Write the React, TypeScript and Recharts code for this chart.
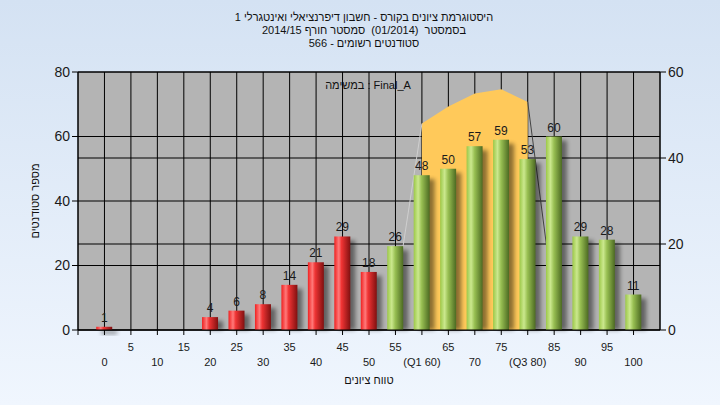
import { ComposedChart, Bar, Area, Line, XAxis, YAxis, CartesianGrid, LabelList } from 'recharts';

const titleLines = [
  'היסטוגרמת ציונים בקורס - חשבון דיפרנציאלי ואינטגרלי 1',
  'בסמסטר  (01/2014)  סמסטר חורף 2014/15',
  'סטודנטים רשומים - 566',
];
const taskLabel = 'במשימה : Final_A';
const xTitle = 'טווח ציונים';
const yTitle = 'מספר סטודנטים';

const scores = [0, 5, 10, 15, 20, 25, 30, 35, 40, 45, 50, 55, 60, 65, 70, 75, 80, 85, 90, 95, 100];
const counts = [1, 0, 0, 0, 4, 6, 8, 14, 21, 29, 18, 26, 48, 50, 57, 59, 53, 60, 29, 28, 11];
// curve on the right axis, only around the quartiles
const density = [null, null, null, null, null, null, null, null, null, null, null, 8, 48, 52, 55, 56, 53, 6, null, null, null];

const passMark = 55;
const q1 = 60;
const q3 = 80;

const xTicks = [-5, 0, 5, 10, 15, 20, 25, 30, 35, 40, 45, 50, 55, 60, 65, 70, 75, 80, 85, 90, 95, 100];
const leftTicks = [0, 20, 40, 60, 80];
const rightTicks = [0, 20, 40, 60];

const data = scores.map((s, i) => ({
  score: s,
  count: counts[i],
  band: s >= q1 && s <= q3 ? density[i] : null,
  edgeLow: s >= q1 - 5 && s <= q1 ? density[i] : null,
  edgeHigh: s >= q3 && s <= q3 + 5 ? density[i] : null,
}));

const font = '"Liberation Sans", Arial, sans-serif';

function CylinderBar(props: any) {
  const { x, y, width, height, payload } = props;
  if (!height || height <= 0) return null;
  const red = payload.score < passMark;
  const sh = height > 6 ? height - 4 : height;
  return (
    <g>
      <rect x={x + 5} y={y + 4} width={width} height={sh} fill="#000" opacity={0.45} filter="url(#barShadow)" />
      <rect x={x} y={y} width={width} height={height} fill={red ? 'url(#redGrad)' : 'url(#greenGrad)'} />
    </g>
  );
}

function XTick(props: any) {
  const { x, y, payload } = props;
  const v = payload.value;
  if (v < 0) return null;
  const low = v % 10 === 0;
  let label = String(v);
  if (v === q1) label = `(Q1 ${v})`;
  if (v === q3) label = `(Q3 ${v})`;
  return (
    <text x={x} y={y} dy={low ? 29 : 14} textAnchor="middle" fontSize={11} fill="#1a1a1a" fontFamily={font}>
      {label}
    </text>
  );
}

export default function App() {
  return (
    <div
      style={{
        position: 'absolute',
        left: 0,
        top: 0,
        width: 720,
        height: 405,
        background: 'linear-gradient(180deg, #d4e2f3 0%, #f0f6fe 100%)',
        fontFamily: font,
      }}
    >
      <svg width={0} height={0} style={{ position: 'absolute' }}>
        <defs>
          <linearGradient id="redGrad" x1="0" y1="0" x2="1" y2="0">
            <stop offset="0%" stopColor="#f02020" />
            <stop offset="28%" stopColor="#ff7a7a" />
            <stop offset="45%" stopColor="#f03434" />
            <stop offset="100%" stopColor="#801010" />
          </linearGradient>
          <linearGradient id="greenGrad" x1="0" y1="0" x2="1" y2="0">
            <stop offset="0%" stopColor="#9cc848" />
            <stop offset="28%" stopColor="#cbe88e" />
            <stop offset="50%" stopColor="#98bf52" />
            <stop offset="100%" stopColor="#4c6a22" />
          </linearGradient>
          <filter id="barShadow" x="-50%" y="-50%" width="200%" height="200%">
            <feGaussianBlur stdDeviation="2" />
          </filter>
        </defs>
      </svg>

      <div
        style={{ position: 'absolute', left: 0, top: 11, width: 728, textAlign: 'center', fontSize: 11, lineHeight: '13px', color: '#111', whiteSpace: 'pre' }}
        dir="rtl"
      >
        {titleLines.map((t) => (
          <div key={t}>{t}</div>
        ))}
      </div>

      <ComposedChart width={720} height={405} data={data} margin={{ top: 72, right: 0, bottom: 35, left: 0 }}>
        <CartesianGrid yAxisId="left" fill="#b4b4b4" stroke="#000" strokeOpacity={1} />
        <CartesianGrid yAxisId="right" vertical={false} stroke="#000" strokeOpacity={1} />
        <XAxis
          type="number"
          dataKey="score"
          domain={[-5, 105]}
          ticks={xTicks}
          interval={0}
          allowDataOverflow
          height={40}
          tickSize={5}
          stroke="#000"
          tick={<XTick />}
        />
        <YAxis
          yAxisId="left"
          domain={[0, 80]}
          ticks={leftTicks}
          width={78}
          tickSize={6}
          stroke="#000"
          tick={{ fontSize: 14, fill: '#1a1a1a', fontFamily: font }}
        />
        <YAxis
          yAxisId="right"
          orientation="right"
          domain={[0, 60]}
          ticks={rightTicks}
          width={60}
          tickSize={6}
          stroke="#000"
          tick={{ fontSize: 14, fill: '#1a1a1a', fontFamily: font, textAnchor: 'start' }}
        />
        <Area
          yAxisId="right"
          dataKey="band"
          type="linear"
          fill="#ffc95a"
          fillOpacity={1}
          stroke="none"
          isAnimationActive={false}
          dot={false}
          activeDot={false}
          zIndex={100}
        />
        <Line
          yAxisId="right"
          dataKey="edgeLow"
          type="linear"
          stroke="#cfcfcf"
          strokeWidth={1}
          dot={false}
          activeDot={false}
          isAnimationActive={false}
          zIndex={200}
        />
        <Line
          yAxisId="right"
          dataKey="edgeHigh"
          type="linear"
          stroke="#444"
          strokeWidth={1}
          dot={false}
          activeDot={false}
          isAnimationActive={false}
          zIndex={200}
        />
        <Bar yAxisId="left" dataKey="count" barSize={16} shape={<CylinderBar />} isAnimationActive={false} zIndex={300}>
          <LabelList
            dataKey="count"
            position="top"
            offset={5}
            fontSize={12}
            fill="#1a1a1a"
            fontFamily={font}
            formatter={(v: any) => (v ? v : '')}
          />
        </Bar>
      </ComposedChart>

      <div style={{ position: 'absolute', left: 268, top: 79, width: 200, textAlign: 'center', fontSize: 11, color: '#111', whiteSpace: 'pre' }} dir="ltr">
        {taskLabel}
      </div>
      <div style={{ position: 'absolute', left: 269, top: 374, width: 200, textAlign: 'center', fontSize: 11, color: '#111' }} dir="rtl">
        {xTitle}
      </div>
      <div
        style={{
          position: 'absolute',
          left: 35,
          top: 201,
          width: 120,
          marginLeft: -60,
          marginTop: -8,
          textAlign: 'center',
          fontSize: 11,
          lineHeight: '16px',
          color: '#111',
          transform: 'rotate(-90deg)',
        }}
        dir="rtl"
      >
        {yTitle}
      </div>
    </div>
  );
}
